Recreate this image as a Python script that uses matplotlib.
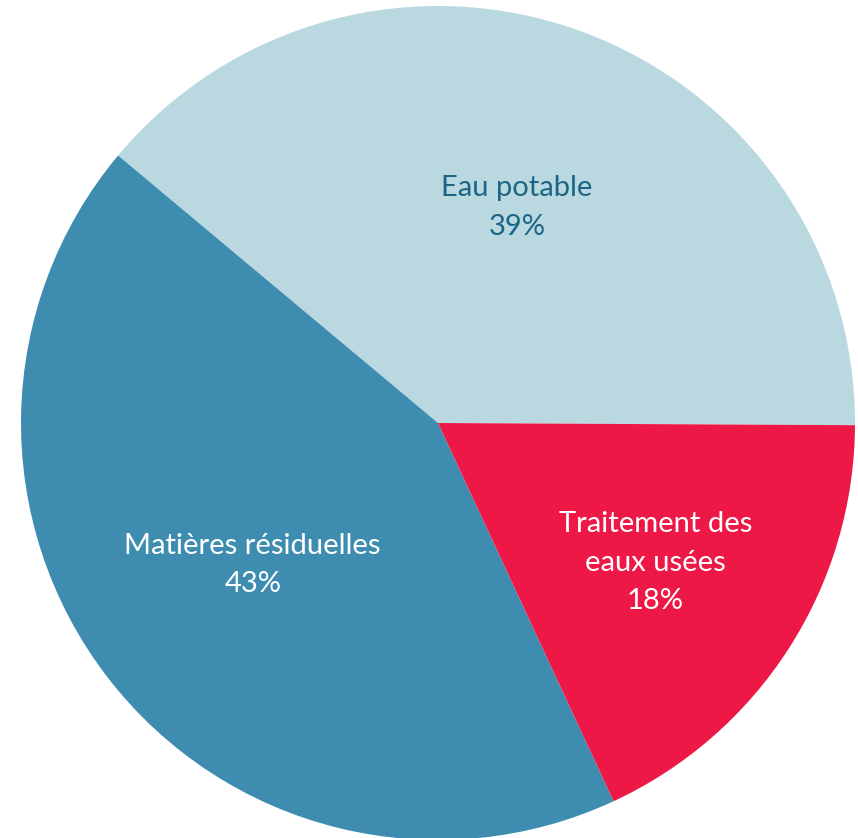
import numpy as np
import matplotlib
matplotlib.use("Agg")
import matplotlib.pyplot as plt

labels = ["Eau potable", "Matières résiduelles", "Traitement des\neaux usées"]
values = [39, 43, 18]
colors = ["#b9d8e0", "#3e8db1", "#ee1846"]
text_colors = ["#1c6585", "white", "white"]
label_dist = [0.55, 0.56, 0.62]

plt.rcParams['font.family'] = ['Lato', 'DejaVu Sans']

fig = plt.figure(figsize=(8.58, 8.38), dpi=100)
ax = fig.add_axes([0.02448, -0.00239, 0.97203, 0.99523])

wedges, _ = ax.pie(values, colors=colors, startangle=-0.3, counterclock=True,
                   radius=1, wedgeprops=dict(linewidth=0))

for w, lab, tc, d in zip(wedges, labels, text_colors, label_dist):
    ang = np.deg2rad((w.theta1 + w.theta2) / 2)
    pct = round((w.theta2 - w.theta1) / 360 * 100)
    ax.text(d * np.cos(ang), d * np.sin(ang), f"{lab}\n{pct}%",
            ha="center", va="center", color=tc, fontsize=21, linespacing=1.6)

ax.set_xlim(-1, 1)
ax.set_ylim(-1, 1)
ax.set_aspect("auto")
ax.axis("off")

fig.savefig("out.png", dpi=100)
